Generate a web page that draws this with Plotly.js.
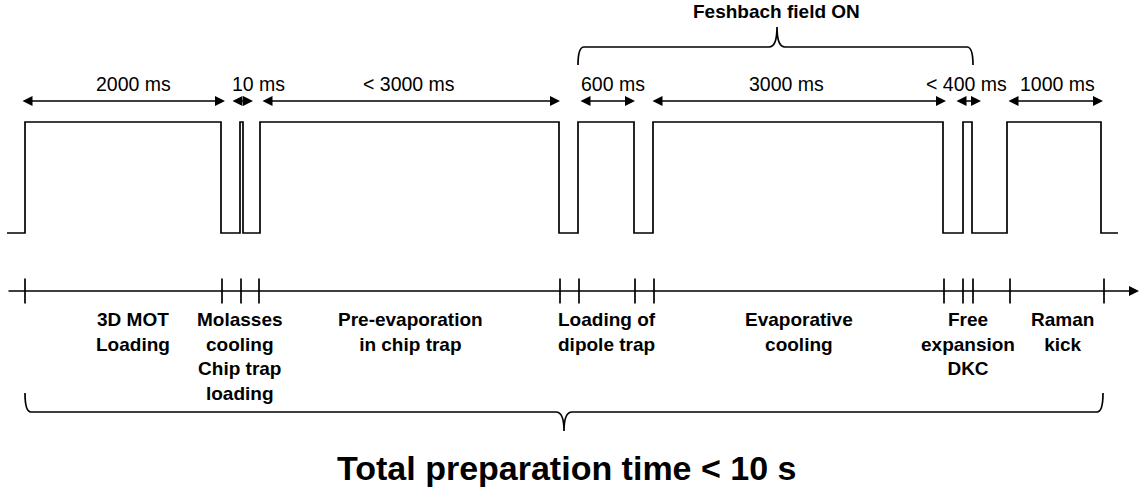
<!DOCTYPE html>
<html><head><meta charset="utf-8">
<script src="https://cdn.plot.ly/plotly-3.0.1.min.js"></script>
<style>html,body{margin:0;padding:0;background:#fff}</style>
</head><body><div id="chart" style="width:1140px;height:493px"></div>
<script>
// ---- data (schematic time positions along the diagram) ----
const edgeTimes  = [7, 25, 221, 240, 243, 260, 559, 578, 634, 653, 943, 963, 972, 1007, 1101, 1118];
const edgeLevels = [0, 1, 0, 1, 0, 1, 0, 1, 0, 1, 0, 1, 0, 1, 0, 0];
const tickTimes  = [25, 222, 241, 259, 560, 579, 635, 654, 944, 963, 973, 1010, 1104];
const durStart   = [21, 231, 261, 579, 651, 955, 1007];
const durEnd     = [225, 253, 560, 635, 946, 981, 1103];
const durLabels  = ["2000 ms", "10 ms", "< 3000 ms", "600 ms", "3000 ms", "< 400 ms", "1000 ms"];
const durLabelX  = [133, 258, 409, 613, 786, 966, 1057];
const phaseLabels = ["3D MOT<br>Loading", "Molasses<br>cooling<br>Chip trap<br>loading",
  "Pre-evaporation<br>in chip trap", "Loading of<br>dipole trap", "Evaporative<br>cooling",
  "Free<br>expansion<br>DKC", "Raman<br>kick"];
const phaseX = [133, 240, 410, 607, 799, 968, 1062];
const feshbachSpan = [578, 777, 973];   // start, middle, end
const feshbachLabel = "Feshbach field ON";
const totalSpan = [25, 564, 1103];
const totalLabel = "Total preparation time < 10 s";
const axisStart = 7, axisEnd = 1139;

// ---- layout constants (pixel-like positions on the helper axis) ----
const Y_ARROW = 101, Y_DURTXT = 84, Y_AXIS = 291, Y_PHASE = 307;
const FONT = "Liberation Sans, Arial, Helvetica, sans-serif";
const INK = "#000";
const LW = 1.7;

function bracePath(x0, xm, x1, yLine, yEnd, yTip) {
  const r = 6, c = 8;
  return `M${x0},${yEnd} Q${x0},${yLine} ${x0 + r},${yLine} L${xm - c},${yLine} ` +
         `Q${xm},${yLine} ${xm},${yTip} Q${xm},${yLine} ${xm + c},${yLine} ` +
         `L${x1 - r},${yLine} Q${x1},${yLine} ${x1},${yEnd}`;
}

const traces = [
  { x: edgeTimes, y: edgeLevels, xaxis: 'x', yaxis: 'y2', mode: 'lines',
    line: { shape: 'hv', color: INK, width: LW }, hoverinfo: 'skip' },
  { x: tickTimes, y: tickTimes.map(() => Y_AXIS), xaxis: 'x', yaxis: 'y', mode: 'markers',
    marker: { symbol: 'line-ns', size: 18, line: { width: LW, color: INK } }, hoverinfo: 'skip' }
];

const annotations = [];
durStart.forEach((s, i) => {
  annotations.push({ x: durEnd[i], y: Y_ARROW, ax: s, ay: Y_ARROW, xref: 'x', yref: 'y',
    axref: 'x', ayref: 'y', text: '', showarrow: true, arrowside: 'end+start',
    arrowhead: 2, arrowsize: 1.25, arrowwidth: 1.6, arrowcolor: INK, standoff: 0, startstandoff: 0 });
  annotations.push({ x: durLabelX[i], y: Y_DURTXT, xref: 'x', yref: 'y', text: durLabels[i],
    showarrow: false, font: { family: FONT, size: 19.5, color: INK }, xanchor: 'center', yanchor: 'middle' });
});
phaseLabels.forEach((t, i) => {
  annotations.push({ x: phaseX[i], y: Y_PHASE, xref: 'x', yref: 'y', text: '<b>' + t + '</b>',
    showarrow: false, align: 'center', xanchor: 'center', yanchor: 'top',
    font: { family: FONT, size: 19, color: INK } });
});
// time axis with arrow
annotations.push({ x: axisEnd, y: Y_AXIS, ax: axisStart, ay: Y_AXIS, xref: 'x', yref: 'y',
  axref: 'x', ayref: 'y', text: '', showarrow: true, arrowhead: 2, arrowsize: 1.25,
  arrowwidth: 1.6, arrowcolor: INK, standoff: 0, startstandoff: 0 });
annotations.push({ x: feshbachSpan[1] - 1, y: 11, xref: 'x', yref: 'y', text: '<b>' + feshbachLabel + '</b>',
  showarrow: false, font: { family: FONT, size: 19, color: INK }, xanchor: 'center', yanchor: 'middle' });
annotations.push({ x: totalSpan[1] + 2, y: 468, xref: 'x', yref: 'y', text: '<b>' + totalLabel + '</b>',
  showarrow: false, font: { family: FONT, size: 34, color: INK }, xanchor: 'center', yanchor: 'middle' });

const shapes = [
  { type: 'path', xref: 'x', yref: 'y',
    path: bracePath(feshbachSpan[0], feshbachSpan[1], feshbachSpan[2], 47, 65, 27),
    line: { color: INK, width: LW } },
  { type: 'path', xref: 'x', yref: 'y',
    path: bracePath(totalSpan[0], totalSpan[1], totalSpan[2], 412, 393, 431),
    line: { color: INK, width: LW } }
];

const layout = {
  width: 1140, height: 493, margin: { l: 0, r: 0, t: 0, b: 0 },
  paper_bgcolor: '#fff', plot_bgcolor: 'rgba(0,0,0,0)', showlegend: false, hovermode: false,
  xaxis: { range: [0, 1140], visible: false, fixedrange: true },
  yaxis: { range: [493, 0], visible: false, domain: [0, 1], fixedrange: true },
  yaxis2: { range: [-0.5, 1.5], visible: false, domain: [1 - 288.5 / 493, 1 - 66.5 / 493],
    anchor: 'x', fixedrange: true },
  annotations: annotations, shapes: shapes
};
Plotly.newPlot('chart', traces, layout, { staticPlot: true, displayModeBar: false });
</script></body></html>
